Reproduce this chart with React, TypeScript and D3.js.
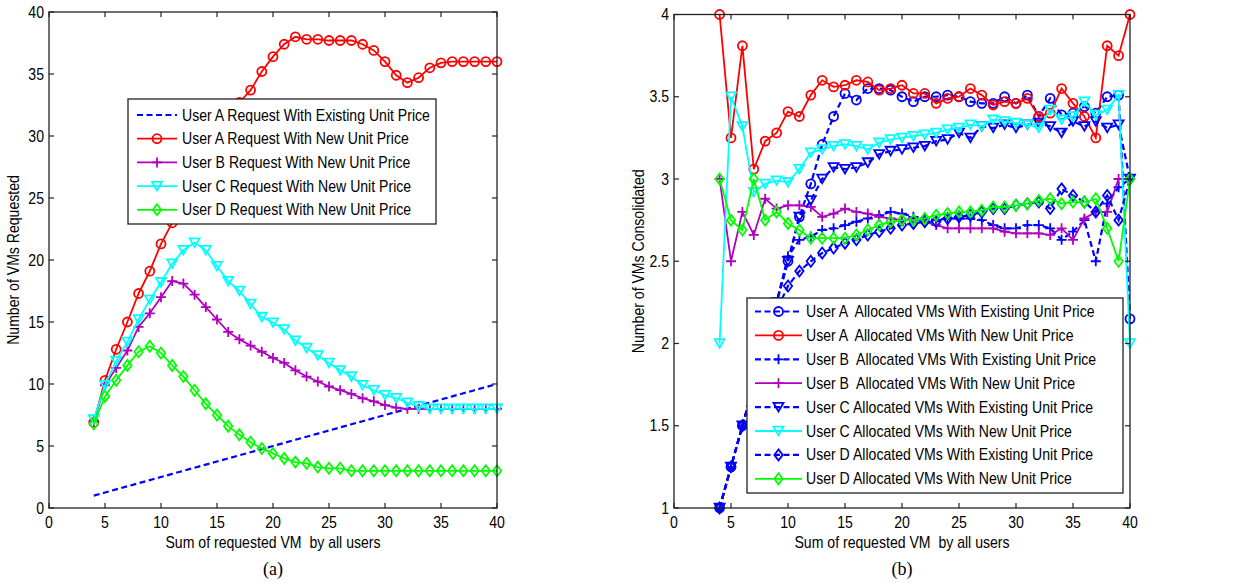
import React from 'react';
import * as d3 from 'd3';

// x positions: sum of requested VMs by all users
const sumRequested = [4, 5, 6, 7, 8, 9, 10, 11, 12, 13, 14, 15, 16, 17, 18, 19, 20, 21, 22, 23, 24, 25, 26, 27, 28, 29, 30, 31, 32, 33, 34, 35, 36, 37, 38, 39, 40];

// (a) requested VMs
const requestAExisting = [1, 1.25, 1.5, 1.75, 2, 2.25, 2.5, 2.75, 3, 3.25, 3.5, 3.75, 4, 4.25, 4.5, 4.75, 5, 5.25, 5.5, 5.75, 6, 6.25, 6.5, 6.75, 7, 7.25, 7.5, 7.75, 8, 8.25, 8.5, 8.75, 9, 9.25, 9.5, 9.75, 10];
const requestANew = [6.9, 10.3, 12.8, 15.0, 17.3, 19.1, 21.3, 23.0, 24.8, 26.6, 28.3, 30.0, 31.5, 32.7, 33.7, 35.2, 36.4, 37.4, 38.0, 37.8, 37.8, 37.7, 37.7, 37.7, 37.4, 36.9, 36.0, 34.9, 34.3, 34.7, 35.5, 35.9, 36.0, 36.0, 36.0, 36.0, 36.0];
const requestBNew = [7.0, 9.9, 11.3, 12.7, 14.6, 15.7, 17.0, 18.3, 18.1, 17.2, 16.2, 15.2, 14.2, 13.6, 13.1, 12.6, 12.1, 11.7, 11.1, 10.6, 10.2, 9.8, 9.5, 9.2, 8.85, 8.6, 8.3, 8.1, 8.0, 8.0, 8.0, 8.0, 8.0, 8.0, 8.0, 8.0, 8.0];
const requestCNew = [7.15, 9.9, 11.85, 13.4, 15.2, 16.8, 18.2, 19.7, 20.8, 21.4, 20.8, 19.5, 18.3, 17.5, 16.45, 15.4, 14.95, 14.4, 13.5, 12.9, 12.3, 11.7, 11.1, 10.6, 9.9, 9.5, 9.1, 8.85, 8.5, 8.2, 8.0, 8.0, 8.0, 8.0, 8.0, 8.0, 8.0];
const requestDNew = [6.8, 9.0, 10.3, 11.5, 12.6, 13.05, 12.5, 11.5, 10.6, 9.5, 8.4, 7.5, 6.6, 5.9, 5.3, 4.8, 4.4, 4.0, 3.7, 3.6, 3.3, 3.2, 3.2, 3.0, 3.0, 3.0, 3.0, 3.0, 3.0, 3.0, 3.0, 3.0, 3.0, 3.0, 3.0, 3.0, 3.0];

// (b) consolidated VMs
const allocAExisting = [1.0, 1.25, 1.5, 1.75, 2.0, 2.25, 2.5, 2.77, 2.97, 3.21, 3.38, 3.52, 3.48, 3.55, 3.55, 3.54, 3.50, 3.47, 3.50, 3.50, 3.51, 3.50, 3.47, 3.46, 3.46, 3.50, 3.46, 3.51, 3.38, 3.49, 3.39, 3.40, 3.44, 3.40, 3.50, 3.51, 2.15];
const allocANew = [4.0, 3.25, 3.81, 3.06, 3.23, 3.28, 3.41, 3.38, 3.51, 3.60, 3.56, 3.57, 3.60, 3.59, 3.54, 3.55, 3.57, 3.52, 3.52, 3.46, 3.49, 3.50, 3.55, 3.51, 3.45, 3.47, 3.46, 3.49, 3.38, 3.40, 3.55, 3.46, 3.38, 3.25, 3.81, 3.75, 4.0];
const allocBExisting = [1.0, 1.25, 1.5, 1.75, 2.0, 2.25, 2.53, 2.63, 2.65, 2.69, 2.70, 2.72, 2.74, 2.76, 2.78, 2.80, 2.79, 2.77, 2.76, 2.75, 2.76, 2.76, 2.76, 2.75, 2.72, 2.70, 2.70, 2.72, 2.72, 2.70, 2.63, 2.68, 2.75, 2.50, 2.85, 2.95, 3.0];
const allocBNew = [3.0, 2.5, 2.80, 2.66, 2.88, 2.82, 2.84, 2.84, 2.83, 2.77, 2.79, 2.82, 2.80, 2.79, 2.77, 2.76, 2.75, 2.76, 2.74, 2.72, 2.70, 2.70, 2.70, 2.70, 2.70, 2.68, 2.67, 2.67, 2.67, 2.66, 2.70, 2.63, 2.76, 2.80, 2.80, 3.0, 3.0];
const allocCExisting = [1.0, 1.25, 1.5, 1.75, 2.0, 2.25, 2.5, 2.77, 2.87, 3.0, 3.07, 3.06, 3.07, 3.10, 3.15, 3.17, 3.18, 3.19, 3.20, 3.23, 3.24, 3.28, 3.25, 3.32, 3.31, 3.33, 3.31, 3.33, 3.34, 3.32, 3.28, 3.35, 3.32, 3.35, 3.31, 3.33, 3.0];
const allocCNew = [2.0, 3.5, 3.32, 2.92, 2.97, 2.99, 2.98, 3.06, 3.16, 3.18, 3.20, 3.21, 3.20, 3.18, 3.22, 3.24, 3.25, 3.26, 3.27, 3.28, 3.30, 3.31, 3.33, 3.32, 3.36, 3.35, 3.34, 3.33, 3.31, 3.42, 3.36, 3.38, 3.47, 3.39, 3.42, 3.51, 2.0];
const allocDExisting = [1.0, 1.25, 1.5, 1.75, 2.0, 2.2, 2.35, 2.44, 2.50, 2.55, 2.58, 2.61, 2.63, 2.66, 2.68, 2.70, 2.72, 2.73, 2.74, 2.74, 2.76, 2.77, 2.78, 2.80, 2.82, 2.82, 2.84, 2.85, 2.86, 2.82, 2.94, 2.90, 2.86, 2.80, 2.90, 2.75, 3.0];
const allocDNew = [3.0, 2.75, 2.69, 3.0, 2.75, 2.80, 2.73, 2.69, 2.64, 2.64, 2.64, 2.64, 2.66, 2.69, 2.72, 2.74, 2.75, 2.75, 2.76, 2.78, 2.79, 2.80, 2.80, 2.81, 2.83, 2.83, 2.84, 2.85, 2.87, 2.88, 2.85, 2.86, 2.86, 2.88, 2.70, 2.50, 3.0];

const BLUE = '#0000ff';
const RED = '#ff0000';
const PURPLE = '#b000c0';
const CYAN = '#00ffff';
const GREEN = '#00ff00';
const FONT = '"Liberation Sans", Arial, sans-serif';
const SQUEEZE = 0.88;

type Marker = 'none' | 'circle' | 'plus' | 'tri' | 'diamond';

interface Series {
  name: string;
  values: number[];
  color: string;
  dashed: boolean;
  marker: Marker;
}

const markerShape = (kind: Marker) => {
  switch (kind) {
    case 'circle':
      return 'M4.5,0A4.5,4.5 0 1,1 -4.5,0A4.5,4.5 0 1,1 4.5,0Z';
    case 'plus':
      return 'M-5,0H5M0,-5V5';
    case 'tri':
      return 'M-5,-4.3L5,-4.3L0,4.3Z';
    case 'diamond':
      return 'M0,-5.5L4.2,0L0,5.5L-4.2,0Z';
    default:
      return '';
  }
};

// narrow MATLAB-ish text
const Label = ({ x, y, anchor = 'start', rotate = 0, size = 16, family = FONT, squeeze = SQUEEZE, children }: any) => (
  <text
    transform={`translate(${x},${y})${rotate ? ` rotate(${rotate})` : ''} scale(${squeeze},1)`}
    textAnchor={anchor}
    fontSize={size}
    fontFamily={family}
    fill="#000"
    style={{ whiteSpace: 'pre' }}
  >
    {children}
  </text>
);

interface PanelProps {
  box: { left: number; right: number; top: number; bottom: number };
  yDomain: [number, number];
  yTickCount: number;
  series: Series[];
  legend: { x: number; y: number; w: number; h: number; first: number; step: number; lineFrom: number; lineTo: number; textAt: number };
  yTitle: string;
  caption: string;
}

const Panel = ({ box, yDomain, yTickCount, series, legend, yTitle, caption }: PanelProps) => {
  const x = d3.scaleLinear().domain([0, 40]).range([box.left, box.right]);
  const y = d3.scaleLinear().domain(yDomain).range([box.bottom, box.top]);
  const line = d3.line<number>().x((_, i) => x(sumRequested[i])).y(d => y(d));
  const xTicks = x.ticks(8);
  const yTicks = y.ticks(yTickCount);
  const midX = (box.left + box.right) / 2;
  const midY = (box.top + box.bottom) / 2;
  const tick = 5;

  return (
    <g>
      {series.map(s => (
        <g key={s.name}>
          <path
            d={line(s.values) || ''}
            fill="none"
            stroke={s.color}
            strokeWidth={s.dashed ? 2.2 : 1.8}
            strokeDasharray={s.dashed ? '6,3.5' : undefined}
          />
          {s.marker !== 'none' &&
            s.values.map((v, i) => (
              <path
                key={i}
                transform={`translate(${x(sumRequested[i])},${y(v)})`}
                d={markerShape(s.marker)}
                fill="none"
                stroke={s.color}
                strokeWidth={1.8}
              />
            ))}
        </g>
      ))}

      <rect x={box.left} y={box.top} width={box.right - box.left} height={box.bottom - box.top} fill="none" stroke="#222" strokeWidth={1.3} />

      {xTicks.map(t => (
        <g key={'x' + t}>
          <line x1={x(t)} x2={x(t)} y1={box.bottom} y2={box.bottom - tick} stroke="#222" strokeWidth={1.2} />
          <line x1={x(t)} x2={x(t)} y1={box.top} y2={box.top + tick} stroke="#222" strokeWidth={1.2} />
          <Label x={x(t)} y={box.bottom + 20} anchor="middle">{String(t)}</Label>
        </g>
      ))}
      {yTicks.map(t => (
        <g key={'y' + t}>
          <line x1={box.left} x2={box.left + tick} y1={y(t)} y2={y(t)} stroke="#222" strokeWidth={1.2} />
          <line x1={box.right} x2={box.right - tick} y1={y(t)} y2={y(t)} stroke="#222" strokeWidth={1.2} />
          <Label x={box.left - 5} y={y(t) + 5.5} anchor="end">{String(t)}</Label>
        </g>
      ))}

      <Label x={midX} y={box.bottom + 40} anchor="middle">{'Sum of requested VM  by all users'}</Label>
      <Label x={box.left - 30} y={midY} anchor="middle" rotate={-90}>{yTitle}</Label>
      <Label x={midX} y={box.bottom + 67} anchor="middle" size={18} family='"Liberation Serif", "Times New Roman", serif' squeeze={1}>{caption}</Label>

      <g>
        <rect x={legend.x} y={legend.y} width={legend.w} height={legend.h} fill="#fff" stroke="#222" strokeWidth={1.3} />
        {series.map((s, i) => {
          const cy = legend.y + legend.first + i * legend.step;
          const x1 = legend.x + legend.lineFrom;
          const x2 = legend.x + legend.lineTo;
          return (
            <g key={'lg' + s.name}>
              <line x1={x1} x2={x2} y1={cy} y2={cy} stroke={s.color} strokeWidth={s.dashed ? 2.2 : 1.8} strokeDasharray={s.dashed ? '6,3.5' : undefined} />
              {s.marker !== 'none' && (
                <path transform={`translate(${(x1 + x2) / 2},${cy})`} d={markerShape(s.marker)} fill="none" stroke={s.color} strokeWidth={1.8} />
              )}
              <Label x={legend.x + legend.textAt} y={cy + 5.5}>{s.name}</Label>
            </g>
          );
        })}
      </g>
    </g>
  );
};

const requestSeries: Series[] = [
  { name: 'User A Request With Existing Unit Price', values: requestAExisting, color: BLUE, dashed: true, marker: 'none' },
  { name: 'User A Request With New Unit Price', values: requestANew, color: RED, dashed: false, marker: 'circle' },
  { name: 'User B Request With New Unit Price', values: requestBNew, color: PURPLE, dashed: false, marker: 'plus' },
  { name: 'User C Request With New Unit Price', values: requestCNew, color: CYAN, dashed: false, marker: 'tri' },
  { name: 'User D Request With New Unit Price', values: requestDNew, color: GREEN, dashed: false, marker: 'diamond' },
];

const allocSeries: Series[] = [
  { name: 'User A  Allocated VMs With Existing Unit Price', values: allocAExisting, color: BLUE, dashed: true, marker: 'circle' },
  { name: 'User A  Allocated VMs With New Unit Price', values: allocANew, color: RED, dashed: false, marker: 'circle' },
  { name: 'User B  Allocated VMs With Existing Unit Price', values: allocBExisting, color: BLUE, dashed: true, marker: 'plus' },
  { name: 'User B  Allocated VMs With New Unit Price', values: allocBNew, color: PURPLE, dashed: false, marker: 'plus' },
  { name: 'User C Allocated VMs With Existing Unit Price', values: allocCExisting, color: BLUE, dashed: true, marker: 'tri' },
  { name: 'User C Allocated VMs With New Unit Price', values: allocCNew, color: CYAN, dashed: false, marker: 'tri' },
  { name: 'User D Allocated VMs With Existing Unit Price', values: allocDExisting, color: BLUE, dashed: true, marker: 'diamond' },
  { name: 'User D Allocated VMs With New Unit Price', values: allocDNew, color: GREEN, dashed: false, marker: 'diamond' },
];

const App = () => (
  <svg width={1240} height={584} style={{ position: 'absolute', left: 0, top: 0, background: '#fff' }}>
    <Panel
      box={{ left: 49, right: 497, top: 12, bottom: 508 }}
      yDomain={[0, 40]}
      yTickCount={8}
      series={requestSeries}
      legend={{ x: 128, y: 99, w: 308, h: 125, first: 16, step: 23.7, lineFrom: 9, lineTo: 49, textAt: 54 }}
      yTitle="Number of VMs Requested"
      caption="(a)"
    />
    <Panel
      box={{ left: 674, right: 1130, top: 14.5, bottom: 508 }}
      yDomain={[1, 4]}
      yTickCount={6}
      series={allocSeries}
      legend={{ x: 747, y: 298, w: 376, h: 195, first: 13.5, step: 23.9, lineFrom: 8, lineTo: 55, textAt: 59 }}
      yTitle="Number of VMs Consolidated"
      caption="(b)"
    />
  </svg>
);

export default App;
